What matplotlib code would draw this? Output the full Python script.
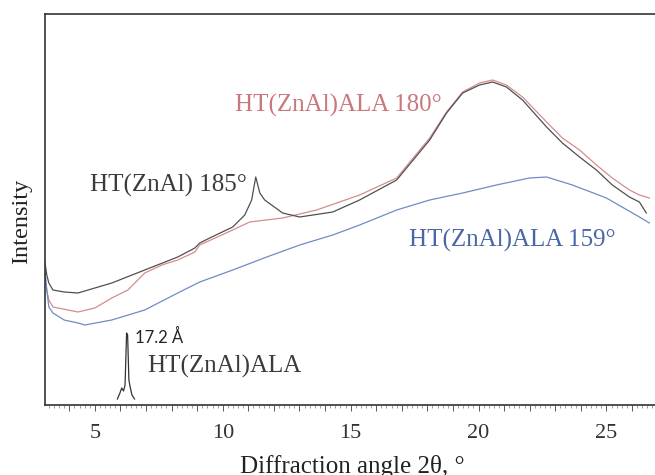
import numpy as np
import matplotlib
matplotlib.use('Agg')
import matplotlib.pyplot as plt
from matplotlib.ticker import MultipleLocator, FuncFormatter

# values (intensity in arbitrary units)
x_185 = [3.05, 3.12, 3.20, 3.36, 3.80, 4.34, 5.00, 5.66, 6.95, 8.24, 8.91, 9.10,
         9.57, 10.39, 10.86, 11.13, 11.29, 11.45, 11.64, 12.34, 13.01, 14.30,
         15.35, 16.80, 18.09, 18.75, 19.38, 20.04, 20.55, 21.09, 21.72, 22.66,
         23.28, 23.95, 24.61, 25.23, 25.90, 26.29, 26.56]
y_185 = [142, 130, 122, 115, 113, 112, 117, 122, 135, 148, 157, 162,
         168, 178, 190, 205, 228, 212, 205, 192, 188, 193,
         205, 225, 265, 292, 312, 320, 323, 318, 305, 278,
         262, 248, 235, 220, 208, 203, 192]

x_180 = [3.05, 3.12, 3.20, 3.36, 4.34, 5.00, 5.66, 6.29, 6.95, 7.62, 8.24, 8.91,
         9.10, 10.39, 11.05, 12.34, 13.67, 15.35, 16.80, 18.09, 18.75, 19.38,
         20.04, 20.55, 21.09, 21.72, 22.66, 23.28, 23.95, 24.61, 25.23, 25.90,
         26.29, 26.68]
y_180 = [128, 115, 105, 98, 93, 97, 107, 115, 132, 140, 145, 153,
         160, 175, 183, 187, 195, 210, 227, 267, 293, 313,
         322, 325, 320, 308, 283, 267, 255, 240, 227, 215,
         210, 207]

x_159 = [3.05, 3.12, 3.20, 3.36, 3.80, 4.34, 4.61, 5.66, 6.95, 8.24, 9.10,
         10.39, 11.72, 13.01, 14.30, 15.35, 16.80, 18.09, 19.38, 20.70, 21.99,
         22.66, 23.67, 25.00, 26.29, 26.68]
y_159 = [135, 115, 98, 92, 85, 82, 80, 85, 95, 112, 123,
         135, 148, 160, 170, 180, 195, 205, 212, 220, 227,
         228, 220, 207, 188, 182]

x_ala = [5.88, 5.98, 6.05, 6.12, 6.18, 6.24, 6.28, 6.33, 6.38, 6.45, 6.55]
y_ala = [6, 12, 17, 14, 20, 72, 70, 25, 18, 10, 6]

labels = ['HT(ZnAl)ALA 180°', 'HT(ZnAl) 185°', 'HT(ZnAl)ALA 159°', 'HT(ZnAl)ALA']

serif = ['Liberation Serif', 'DejaVu Serif']

fig = plt.figure(figsize=(6.55, 4.75), dpi=100)
ax = fig.add_axes([45/655, 70/475, 610/655, 391/475])

ax.plot(x_180, y_180, color='#d68c8c', lw=0.9)
ax.plot(x_185, y_185, color='#505050', lw=0.9)
ax.plot(x_159, y_159, color='#6f8cc4', lw=0.9)
ax.plot(x_ala, y_ala, color='#333333', lw=0.9)

ax.text(10.47, 300, labels[0], color='#c9787d', fontsize=18, family=serif, va='center')
ax.text(4.80, 220, labels[1], color='#3e3a3a', fontsize=18, family=serif, va='center')
ax.text(17.30, 165, labels[2], color='#4a66a6', fontsize=18, family=serif, va='center')
ax.text(7.03, 39, labels[3], color='#3e3a3a', fontsize=18, family=serif, va='center')
ax.text(6.56, 68, '17.2 Å', color='#222222', fontsize=12, family=['Lato', 'DejaVu Sans'], va='center')

ax.set_xlim(3.05, 26.9)
ax.set_ylim(0, 391)

for side in ['left', 'top', 'bottom']:
    ax.spines[side].set_color('#333333')
    ax.spines[side].set_linewidth(1.2)
ax.spines['right'].set_visible(False)

ax.set_yticks([])
ax.xaxis.set_major_locator(MultipleLocator(1))
ax.xaxis.set_minor_locator(MultipleLocator(0.2))
ax.xaxis.set_major_formatter(FuncFormatter(lambda v, p: '%d' % v if round(v) % 5 == 0 else ''))
ax.tick_params(axis='x', which='major', direction='out', length=4, width=0.7, color='#555555', pad=10)
ax.tick_params(axis='x', which='minor', direction='out', length=2.5, width=0.5, color='#777777')
for lbl in ax.get_xticklabels():
    lbl.set_family(serif)
    lbl.set_fontsize(16)
    lbl.set_color('#333333')

fig.text(352/655, 2/475, 'Diffraction angle 2θ, °', ha='center', va='baseline',
         fontsize=18, family=serif, color='#222222')
fig.text(22/655, 0.533, 'Intensity', rotation=90, ha='center', va='center',
         fontsize=17.5, family=serif, color='#222222')

fig.savefig('out.png', dpi=100)
